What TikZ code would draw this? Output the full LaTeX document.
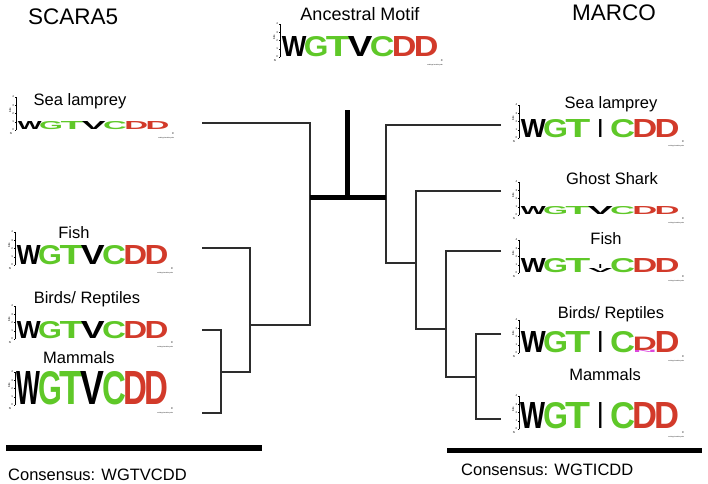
\documentclass[tikz,border=0pt]{standalone}
\usepackage{fontspec}
\setmainfont{Liberation Sans}
\usepackage{tikz}

\definecolor{logogreen}{RGB}{95,200,40}
\definecolor{logored}{RGB}{210,58,42}
\definecolor{logopink}{RGB}{220,70,220}
\definecolor{treegray}{RGB}{45,45,45}

\newcommand{\vmotif}{0/W/black,1/G/logogreen,2/T/logogreen,3/V/black,4/C/logogreen,5/D/logored,6/D/logored}
\newcommand{\imotif}{0/W/black,1/G/logogreen,2/T/logogreen,4/C/logogreen,5/D/logored,6/D/logored}
% one stretched logo letter in a box of the column width: width, ink width, height, colour, letter
\newcommand{\logoglyph}[5]{\makebox[#1pt]{\resizebox{#2pt}{#3pt}{\textcolor{#4}{#5}}}}

% sequence logo: first column x, baseline y, column width, letter height, column/letter/colour list
\newcommand{\seqlogo}[5]{%
  \pgfmathsetmacro{\logoend}{#1+7*#3}
  \pgfmathsetmacro{\logow}{#3*1.12}
  \edef\logolist{#5}
  %axis
  \draw[logoaxis] (#1-3,#2) -- (#1-3,#2-33);
  \foreach \bit in {0,...,4}
    \draw[logoaxis] (#1-3,{#2-\bit*8.25}) -- ++(-1.5,0) node[tinytext, left, inner sep=0.3pt] {\bit};
  \node[tinytext, rotate=90] at (#1-9,#2-20) {bits};
  \node[tinytext] at (#1-8,#2+3.5) {N};
  \node[tinytext] at (\logoend+5,#2+3.5) {C};
  \node[tinytext, anchor=north east, font=\fontsize{1.6}{2}\selectfont] at (\logoend+6,#2+7) {weblogo.berkeley.edu};
  %letters
  \foreach \pos/\ltr/\col in \logolist
    \node[logoletter] at ({#1+\pos*#3},#2) {\logoglyph{#3}{\logow}{#4}{\col}{\ltr}};
}

\begin{document}
\begin{tikzpicture}[x=1pt,y=-1pt,
    branch/.style={draw=treegray, line width=1.5pt},
    stem/.style={draw=black, line width=5pt},
    bar/.style={draw=black, line width=6pt},
    taxon/.style={anchor=base, inner sep=0, font=\fontsize{16.5}{18}\selectfont},
    heading/.style={anchor=base, inner sep=0, font=\fontsize{22.5}{24}\selectfont},
    logoaxis/.style={draw=black, line width=0.3pt},
    tinytext/.style={inner sep=0, font=\fontsize{2.8}{3}\selectfont},
    logoletter/.style={anchor=south west, inner sep=0, font=\bfseries}]
	\useasboundingbox (0,0) rectangle (708,483);
	%draw headings
	\node[heading, anchor=base west] (scara) at (28,24) {SCARA5};
	\node[heading] (marco) at (614,20) {MARCO};
	\node[taxon, font=\fontsize{18}{20}\selectfont] (ancestral) at (360,20) {Ancestral Motif};
	%draw logos, SCARA5
	\seqlogo{283}{57}{22}{20}{\vmotif}
	\node[taxon] (lLamLbl) at (80,105) {Sea lamprey};
	\seqlogo{19}{130}{21.3}{8}{\vmotif}
	\node[taxon] (lFishLbl) at (74,238) {Fish};
	\seqlogo{18}{265}{21.3}{19}{\vmotif}
	\node[taxon] (lBirdLbl) at (87,303) {Birds/ Reptiles};
	\seqlogo{18}{339}{21.3}{17}{\vmotif}
	\node[taxon] (lMamLbl) at (79,363) {Mammals};
	\seqlogo{18}{405}{21.3}{33}{\vmotif}
	%draw logos, MARCO
	\node[taxon] (rLamLbl) at (611,108) {Sea lamprey};
	\seqlogo{522}{138}{22.3}{18}{\imotif}
	\node[logoletter] at (597.8,138) {\logoglyph{4.5}{4.5}{18}{black}{I}};
	\node[taxon] (rGhoLbl) at (612,184) {Ghost Shark};
	\seqlogo{522}{215}{22.3}{8}{\vmotif}
	\node[taxon] (rFishLbl) at (606,244) {Fish};
	\seqlogo{522}{273}{22.3}{14}{\imotif}
	\node[logoletter] at (588.9,273) {\logoglyph{22.3}{24}{4}{black}{V}};
	\node[logoletter] at (598.3,268.8) {\logoglyph{3.5}{3.5}{4}{black}{I}};
	\node[taxon] (rBirdLbl) at (611,318) {Birds/ Reptiles};
	\seqlogo{522}{353}{22.3}{21}{0/W/black,1/G/logogreen,2/T/logogreen,4/C/logogreen,6/D/logored}
	\node[logoletter] at (597.8,353) {\logoglyph{4.5}{4.5}{21}{black}{I}};
	\node[logoletter] at (633.5,353) {\logoglyph{22.3}{24}{2.4}{logopink}{N}};
	\node[logoletter] at (633.5,350.4) {\logoglyph{22.3}{24}{13.4}{logored}{D}};
	\node[taxon] (rMamLbl) at (605,380) {Mammals};
	\seqlogo{522}{429}{22.3}{26}{\imotif}
	\node[logoletter] at (597.8,429) {\logoglyph{4.5}{4.5}{26}{black}{I}};
	%tree points
	\coordinate (lLam) at (202,123);
	\coordinate (lFish) at (202,248);
	\coordinate (lBird) at (202,330);
	\coordinate (lMam) at (202,413);
	\coordinate (lBM) at (221,372);
	\coordinate (lFBM) at (250,325);
	\coordinate (lRoot) at (310,197);
	\coordinate (rLam) at (501,125);
	\coordinate (rGho) at (501,191);
	\coordinate (rFish) at (501,251);
	\coordinate (rBird) at (501,334);
	\coordinate (rMam) at (501,419);
	\coordinate (rBM) at (476,377);
	\coordinate (rFBM) at (446,329);
	\coordinate (rGFBM) at (416,263);
	\coordinate (rRoot) at (386,197);
	\coordinate (anc) at (347,197);
	\coordinate (ancTop) at (347,110);
	%draw tree
	\draw[branch] (lBird) -| (lBM) |- (lMam);
	\draw[branch] (lFish) -| (lFBM) |- (lBM);
	\draw[branch] (lLam) -| (lRoot) |- (lFBM);
	\draw[branch] (rBird) -| (rBM) |- (rMam);
	\draw[branch] (rFish) -| (rFBM) |- (rBM);
	\draw[branch] (rGho) -| (rGFBM) |- (rFBM);
	\draw[branch] (rLam) -| (rRoot) |- (rGFBM);
	\draw[stem] (lRoot) -- (rRoot);
	\draw[stem] (anc) -- (ancTop);
	%draw consensus
	\coordinate (lBarA) at (6,448);
	\coordinate (lBarB) at (262,448);
	\coordinate (rBarA) at (447,450.5);
	\coordinate (rBarB) at (702,450.5);
	\draw[bar] (lBarA) -- (lBarB);
	\draw[bar, line width=5pt] (rBarA) -- (rBarB);
	\node[taxon, anchor=base west] (lCons) at (8,480) {Consensus: WGTVCDD};
	\node[taxon, anchor=base west] (rCons) at (461,475) {Consensus: WGTICDD};
\end{tikzpicture}
\end{document}
